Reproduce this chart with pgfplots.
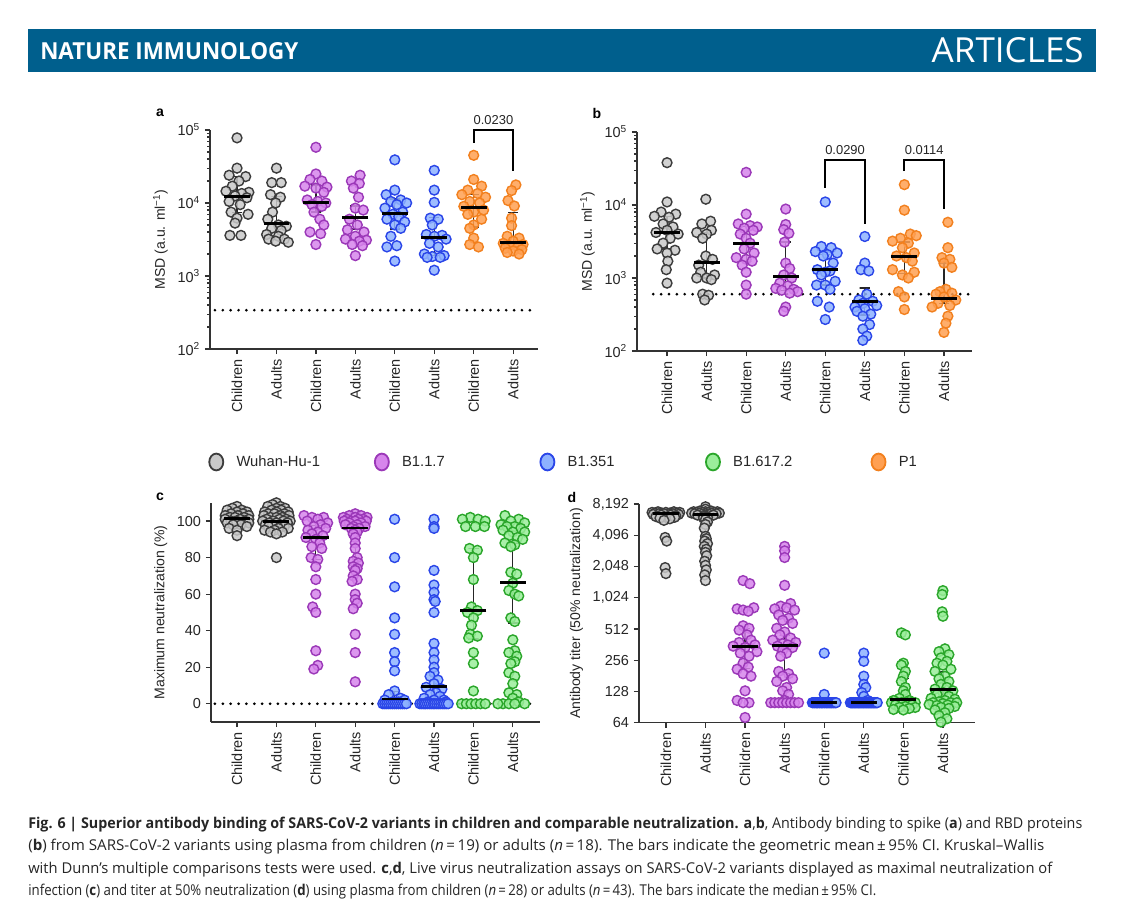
\documentclass[border=0pt]{standalone}
\usepackage{pgfplots}
\pgfplotsset{compat=1.18}
\usepackage{graphicx}
\usepackage{fontspec}
\setmainfont{Liberation Sans}
\newfontfamily\capfont{Open Sans}
\definecolor{banner}{HTML}{005F8D}
\definecolor{gfill}{HTML}{C9C9C9}\definecolor{gdraw}{HTML}{3C3C3C}
\definecolor{pfill}{HTML}{D785EC}\definecolor{pdraw}{HTML}{9B38B8}
\definecolor{bfill}{HTML}{8EB2FF}\definecolor{bdraw}{HTML}{2A45E8}
\definecolor{grfill}{HTML}{9BEE9B}\definecolor{grdraw}{HTML}{2AA62A}
\definecolor{ofill}{HTML}{FFA052}\definecolor{odraw}{HTML}{F2801E}
\definecolor{txt}{HTML}{262626}
\newcommand{\tl}{\fontsize{10.3}{11.5}\selectfont}
\newcommand{\yl}{\fontsize{10}{11.5}\selectfont}
\newcommand{\pv}{\fontsize{9.2}{10.5}\selectfont}
\pgfplotsset{
 pts/.style 2 args={only marks, mark=*, mark size=3.5pt, mark options={draw=#2, fill=#1, line width=1pt, fill opacity=0.85}},
 panel/.style={scale only axis, axis lines*=left, axis line style={line width=0.85pt, color=black!80}, clip=false,
   xtick={0,...,7}, xticklabels={Children,Adults,Children,Adults,Children,Adults,Children,Adults},
   xticklabel style={rotate=90, anchor=east, font=\tl, text=txt},
   yticklabel style={font=\tl, text=txt}, ylabel style={font=\yl, text=txt},
   tick align=outside, major tick length=3.6pt, minor tick length=1.9pt, tick style={line width=0.85pt, color=black!80}},
 med/.style={only marks, mark=-, mark size=9.2pt, mark options={line width=2.1pt, draw=black}},
 ci/.style={black!85, line width=0.9pt, mark=none, line join=miter},
 lod/.style={black, line width=2.1pt, dash pattern=on 0pt off 5.6pt, line cap=round, mark=none},
 bracket/.style={black, line width=1.4pt, line join=miter, mark=none},
}
\begin{document}
\begin{tikzpicture}
\useasboundingbox (0,0) rectangle (28.4,22.85);
\fill[white] (0,0) rectangle (28.4,22.85);
% header
\fill[banner] (0.7,21.05) rectangle (27.4,22.125);
\node[anchor=west, inner sep=0, text=white] at (1.0,21.575) {\resizebox{6.45cm}{0.425cm}{\capfont\bfseries NATURE IMMUNOLOGY}};
\node[anchor=east, inner sep=0, text=white] at (27.1,21.59) {\resizebox{3.8cm}{0.625cm}{\capfont ARTICLES}};
% panel letters
\node[font=\bfseries\fontsize{10}{12}\selectfont] at (4.0,20.025) {a};
\node[font=\bfseries\fontsize{10}{12}\selectfont] at (14.925,20.025) {b};
\node[font=\bfseries\fontsize{10}{12}\selectfont] at (4.0,10.425) {c};
\node[font=\bfseries\fontsize{10}{12}\selectfont] at (14.3,10.425) {d};

% ================= panel a
\begin{axis}[panel, at={(5.25cm,14.125cm)}, anchor=south west, width=8.2cm, height=5.475cm,
 xmin=-0.685, xmax=7.63, ymode=log, ymin=100, ymax=100000,
 ytick={100,1000,10000,100000}, yticklabels={10\textsuperscript{2},10\textsuperscript{3},10\textsuperscript{4},10\textsuperscript{5}},
 minor ytick={200,300,400,500,600,700,800,900,2000,3000,4000,5000,6000,7000,8000,9000,20000,30000,40000,50000,60000,70000,80000,90000},
 ylabel={MSD (a.u. ml\textsuperscript{−1})},
 legend columns=5,
 legend style={draw=none, fill=none, inner sep=0pt, outer sep=0pt, nodes={inner sep=0pt}, at={(-0.0183,-0.516)}, anchor=west, font=\fontsize{10.5}{12}\selectfont, text=txt}]
\addlegendimage{legend image code/.code={\path (0cm,0cm) (0.6cm,0cm); \draw[draw=gdraw, fill=gfill, line width=1.3pt] (0.3cm,0cm) ellipse [x radius=0.175cm, y radius=0.21cm];}}
\addlegendentry{\makebox[3.525cm][l]{\hspace{0.2cm}Wuhan-Hu-1}}
\addlegendimage{legend image code/.code={\path (0cm,0cm) (0.6cm,0cm); \draw[draw=pdraw, fill=pfill, line width=1.3pt] (0.3cm,0cm) ellipse [x radius=0.175cm, y radius=0.21cm];}}
\addlegendentry{\makebox[3.525cm][l]{\hspace{0.2cm}B1.1.7}}
\addlegendimage{legend image code/.code={\path (0cm,0cm) (0.6cm,0cm); \draw[draw=bdraw, fill=bfill, line width=1.3pt] (0.3cm,0cm) ellipse [x radius=0.175cm, y radius=0.21cm];}}
\addlegendentry{\makebox[3.525cm][l]{\hspace{0.2cm}B1.351}}
\addlegendimage{legend image code/.code={\path (0cm,0cm) (0.6cm,0cm); \draw[draw=grdraw, fill=grfill, line width=1.3pt] (0.3cm,0cm) ellipse [x radius=0.175cm, y radius=0.21cm];}}
\addlegendentry{\makebox[3.525cm][l]{\hspace{0.2cm}B1.617.2}}
\addlegendimage{legend image code/.code={\path (0cm,0cm) (0.6cm,0cm); \draw[draw=odraw, fill=ofill, line width=1.3pt] (0.3cm,0cm) ellipse [x radius=0.175cm, y radius=0.21cm];}}
\addlegendentry{\makebox[3.525cm][l]{\hspace{0.2cm}P1}}
\addplot[lod] coordinates {(-0.56,340) (7.54,340)};
\addplot[pts={gfill}{gdraw}] coordinates {(0,78000) (0,30000) (-0.2,24000) (0.22,23000) (0.05,20000) (-0.12,17000) (-0.28,14500) (0.3,14000) (0.12,13500) (-0.05,12500) (0.25,11800) (-0.2,10500) (0.08,9500) (-0.15,7500) (0.28,7000) (0,6200) (-0.05,5300) (-0.18,3600) (0.1,3600)
(1,30000) (0.88,19000) (1.12,19000) (0.85,13000) (1.1,12000) (0.98,10000) (0.9,7500) (0.78,6000) (1.05,5000) (1.25,4800) (0.88,4500) (1.12,4200) (0.75,3700) (1.05,3500) (0.8,3200) (1.2,3200) (0.98,3000) (1.3,2900)};
\addplot[pts={pfill}{pdraw}] coordinates {(2,58000) (2,25000) (1.85,21000) (2.15,20000) (1.72,17000) (2.28,16500) (2,16000) (2.2,14000) (1.78,11000) (2.05,10500) (2.25,10000) (1.9,9500) (2.15,9000) (1.95,7500) (2.1,6000) (2.2,5000) (1.85,4000) (2.12,3800) (2,2700)
(3.12,24000) (2.9,20000) (3.1,18500) (2.95,16000) (3.08,12000) (3,8500) (3.2,8000) (2.85,6000) (3.05,5000) (2.8,4300) (3.22,4000) (3,3500) (2.75,3200) (3.28,3100) (3.1,3000) (2.92,2700) (3.18,2600) (3,1900)};
\addplot[pts={bfill}{bdraw}] coordinates {(4,39000) (4,15000) (3.78,13000) (4.15,11000) (3.9,10500) (4.3,10000) (4.05,9500) (3.75,8500) (4.2,7500) (3.95,7000) (4.1,6500) (3.8,6000) (4.25,5500) (4,5000) (4.15,4500) (3.9,3500) (4.05,2600) (3.8,2500) (4,1600)
(5,28000) (5,15000) (5,10200) (4.9,6200) (5.1,6000) (4.95,5000) (4.8,3700) (5.2,3600) (5,3500) (5.3,3200) (4.88,2800) (5.1,2500) (4.75,2000) (5.25,1900) (4.95,1850) (5.15,1800) (4.82,1800) (5,1200)};
\addplot[pts={ofill}{odraw}] coordinates {(6,45000) (6,21000) (6.2,17000) (5.85,15000) (6.1,13500) (5.7,13000) (6.3,12000) (5.9,10500) (6.15,10000) (5.75,9000) (6.25,8000) (6,7500) (5.85,7000) (6.2,6000) (6,5000) (5.9,4500) (6,3300) (5.9,2700) (6.12,2500)
(7.07,17700) (6.96,14800) (6.87,10800) (7.03,9100) (6.96,6200) (6.96,4900) (6.85,3500) (7.15,3300) (7,3000) (6.75,2800) (7.25,2700) (6.9,2600) (7.12,2500) (6.8,2400) (7.22,2300) (7,2200) (6.85,2100) (7.15,2000)};
\addplot[ci] coordinates {(-0.13,7400) (0.13,7400) (0,7400) (0,23000) (-0.13,23000) (0.13,23000)};
\addplot[ci] coordinates {(0.87,3950) (1.13,3950) (1,3950) (1,12300) (0.87,12300) (1.13,12300)};
\addplot[ci] coordinates {(1.87,7500) (2.13,7500) (2,7500) (2,17700) (1.87,17700) (2.13,17700)};
\addplot[ci] coordinates {(2.87,4400) (3.13,4400) (3,4400) (3,9100) (2.87,9100) (3.13,9100)};
\addplot[ci] coordinates {(3.87,4400) (4.13,4400) (4,4400) (4,11300) (3.87,11300) (4.13,11300)};
\addplot[ci] coordinates {(4.87,1930) (5.13,1930) (5,1930) (5,6400) (4.87,6400) (5.13,6400)};
\addplot[ci] coordinates {(5.87,4700) (6.13,4700) (6,4700) (6,13200) (5.87,13200) (6.13,13200)};
\addplot[ci] coordinates {(6.87,2540) (7.13,2540) (7,2540) (7,7400) (6.87,7400) (7.13,7400)};
\addplot[med] coordinates {(0,12300) (1,5200) (2,10200) (3,6400) (4,7200) (5,3400) (6,8750) (7,2900)};
\addplot[bracket] coordinates {(6,67000) (6,100000) (7,100000) (7,27400)};
\node[anchor=south, font=\pv, text=txt] at (axis cs:6.5,100000) {0.0230};
\end{axis}

% ================= panel b
\begin{axis}[panel, at={(15.925cm,14.075cm)}, anchor=south west, width=8.375cm, height=5.475cm,
 xmin=-0.76, xmax=7.71, ymode=log, ymin=100, ymax=100000,
 ytick={100,1000,10000,100000}, yticklabels={10\textsuperscript{2},10\textsuperscript{3},10\textsuperscript{4},10\textsuperscript{5}},
 minor ytick={200,300,400,500,600,700,800,900,2000,3000,4000,5000,6000,7000,8000,9000,20000,30000,40000,50000,60000,70000,80000,90000},
 ylabel={MSD (a.u. ml\textsuperscript{−1})}]
\addplot[lod] coordinates {(-0.35,600) (7.66,600)};
\addplot[pts={gfill}{gdraw}] coordinates {(0,38000) (0,11000) (-0.15,8000) (0.22,7500) (-0.32,7000) (0.05,6800) (-0.1,5500) (0.15,5000) (0,4500) (-0.28,4200) (0.28,4000) (0.08,3500) (-0.1,3000) (-0.25,2500) (0.2,2400) (0,2200) (0.02,1700) (-0.02,1300) (0,850)
(0.98,12000) (1.1,6000) (0.88,5500) (1.12,4500) (0.75,4200) (1,4000) (0.9,3500) (0.98,2000) (1.15,1800) (0.8,1500) (0.85,1200) (1.2,1100) (1,1000) (0.75,1000) (1.12,950) (0.9,600) (1.05,580) (0.95,500)};
\addplot[pts={pfill}{pdraw}] coordinates {(2,28000) (2,7500) (1.8,5500) (2.1,5200) (2.28,5000) (1.95,4800) (2.18,4500) (1.85,4000) (2,3500) (2.1,3000) (1.95,2500) (2.2,2200) (1.75,1900) (2,1800) (2.15,1700) (1.9,1500) (2,1200) (2,800) (2,600)
(3,8800) (3,5400) (2.95,4600) (3.08,4100) (2.97,3100) (3,1600) (3.1,1350) (2.95,1100) (3.15,1000) (2.85,850) (3.05,780) (2.75,720) (3.2,700) (2.9,680) (3.3,650) (3.1,620) (3,400) (2.95,350)};
\addplot[pts={bfill}{bdraw}] coordinates {(4,11000) (3.9,2700) (4.15,2600) (3.75,2300) (4.3,2200) (4.05,2100) (3.95,2000) (4.2,1600) (3.8,1300) (4.12,1250) (4,1200) (3.9,1100) (4.25,900) (3.78,800) (4,800) (4.12,700) (3.8,480) (4.1,400) (4,270)
(5,3700) (5,1600) (4.9,1300) (5.1,1250) (5.05,600) (4.85,500) (5.2,480) (4.95,450) (5.3,420) (4.75,400) (5,380) (4.8,350) (5.15,320) (4.95,300) (5.12,230) (4.95,200) (5.05,160) (4.95,140)};
\addplot[pts={ofill}{odraw}] coordinates {(6,19000) (6,8500) (6.15,4000) (6.3,3800) (5.9,3500) (5.7,3200) (6.1,3000) (5.95,2600) (6.25,2200) (5.8,2000) (6.05,1900) (6.2,1700) (5.7,1300) (6.25,1200) (5.95,1100) (6.1,1000) (5.85,650) (6,550) (6,370)
(7.1,5800) (7.1,2600) (6.95,1900) (7.15,1800) (7,1600) (7.2,1400) (7.05,700) (6.9,650) (7.2,620) (6.8,600) (7,550) (7.3,500) (6.85,450) (7.15,420) (6.7,400) (7.1,300) (7.05,240) (7,180)};
\addplot[ci] coordinates {(-0.13,2500) (0.13,2500) (0,2500) (0,6900) (-0.13,6900) (0.13,6900)};
\addplot[ci] coordinates {(0.87,1000) (1.13,1000) (1,1000) (1,4200) (0.87,4200) (1.13,4200)};
\addplot[ci] coordinates {(1.87,1700) (2.13,1700) (2,1700) (2,5100) (1.87,5100) (2.13,5100)};
\addplot[ci] coordinates {(2.87,680) (3.13,680) (3,680) (3,3100) (2.87,3100) (3.13,3100)};
\addplot[ci] coordinates {(3.87,800) (4.13,800) (4,800) (4,2100) (3.87,2100) (4.13,2100)};
\addplot[ci] coordinates {(4.87,310) (5.13,310) (5,310) (5,730) (4.87,730) (5.13,730)};
\addplot[ci] coordinates {(5.87,1150) (6.13,1150) (6,1150) (6,3100) (5.87,3100) (6.13,3100)};
\addplot[ci] coordinates {(6.87,445) (7.13,445) (7,445) (7,1600) (6.87,1600) (7.13,1600)};
\addplot[med] coordinates {(0,4200) (1,1650) (2,2950) (3,1050) (4,1300) (5,475) (6,2000) (7,530)};
\addplot[bracket] coordinates {(4,17100) (4,41400) (5,41400) (5,5500)};
\addplot[bracket] coordinates {(6,29200) (6,41400) (7,41400) (7,8800)};
\node[anchor=south, font=\pv, text=txt] at (axis cs:4.5,41400) {0.0290};
\node[anchor=south, font=\pv, text=txt] at (axis cs:6.5,41400) {0.0114};
\end{axis}

% ================= panel c
\begin{axis}[panel, at={(5.275cm,4.8cm)}, anchor=south west, width=8.225cm, height=5.48cm,
 xmin=-0.66, xmax=7.69, ymin=-10, ymax=110,
 ytick={0,20,40,60,80,100}, yticklabels={0,20,40,60,80,100},
 ylabel={Maximum neutralization (\%)}]
\addplot[lod] coordinates {(-0.56,0) (7.54,0)};
\addplot[pts={gfill}{gdraw}] coordinates {(0,108) (-0.12,107) (0.12,106) (-0.25,106) (0.25,105) (0,105) (-0.15,104) (0.15,104) (-0.3,103) (0.3,103) (0.02,103) (-0.18,102) (0.18,102) (-0.05,102) (0.3,101) (-0.3,101) (0.08,101) (-0.15,100) (0.2,100) (-0.02,100) (0.3,99) (-0.25,99) (0.1,98) (-0.1,98) (0.25,97) (-0.2,96) (0,95) (0,92)
(1,110) (0.9,109) (1.1,108) (0.78,108) (1.22,107) (1,107) (0.88,106) (1.12,106) (0.7,105) (1.3,105) (1,105) (0.8,104) (1.2,104) (0.95,104) (1.1,103) (0.68,103) (1.32,103) (0.85,102) (1.15,102) (1,102) (0.75,101) (1.25,101) (1.08,101) (0.92,100) (0.65,100) (1.35,100) (1.18,100) (0.82,99) (1,99) (1.28,99) (0.72,98) (1.1,98) (0.9,98) (1.2,97) (0.8,97) (1.05,96) (1.3,96) (0.7,95) (0.95,95) (1.15,94) (0.85,94) (1,93) (1,80)};
\addplot[pts={pfill}{pdraw}] coordinates {(1.7,103) (1.9,102) (2.2,102) (2.05,101) (1.78,100) (2.3,99) (2.12,98) (1.95,97) (2.25,96) (1.8,95) (2.05,94) (1.9,93) (2.18,92) (1.75,91) (2,90) (2.1,88) (1.9,86) (2.15,85) (1.88,80) (2.05,79) (2,75) (2,68) (2,60) (1.92,53) (2,50) (2,29) (2.05,21) (1.95,19)
(3,104) (2.85,103) (3.15,103) (2.7,102) (3.3,102) (3,102) (2.8,101) (3.2,101) (3.08,101) (2.9,100) (3.28,100) (2.72,100) (3,100) (3.15,99) (2.85,99) (3.05,98) (2.75,98) (3.25,97) (2.95,97) (3.1,96) (2.9,96) (3,95) (3.05,94) (2.95,93) (3,91) (3,88) (3,85) (3.05,80) (2.95,78) (3.08,77) (2.95,75) (3.05,74) (3,73) (2.95,70) (3.05,68) (2.92,67) (3,60) (3,57) (3.05,55) (2.95,52) (3,38) (3,28) (3,12)};
\addplot[pts={bfill}{bdraw}] coordinates {(4,101) (4,80) (4,64) (4,47) (4,38) (4,28) (4,23) (4,18) (4,7) (3.85,5) (4.15,3) (3.75,2) (4.25,2) (3.95,1) (4.1,1) (3.7,0) (3.75,0) (3.8,0) (3.85,0) (3.9,0) (3.95,0) (4,0) (4.05,0) (4.1,0) (4.15,0) (4.2,0) (4.25,0) (4.3,0)
(5,101) (5,97) (5,96) (5,73) (5,65) (5,61) (5,57) (5.03,56) (5,50) (5,33) (5,28) (5,24) (5,20) (5,17) (4.9,15) (5.1,13) (5,11) (4.8,9) (5.2,8) (5.05,6) (4.9,5) (5.15,4) (4.75,3) (5.25,2) (5,2) (4.85,1) (5.3,1)
(4.64,0) (4.69,0) (4.74,0) (4.78,0) (4.83,0) (4.88,0) (4.93,0) (4.98,0) (5.02,0) (5.07,0) (5.12,0) (5.17,0) (5.22,0) (5.26,0) (5.31,0) (5.36,0)};
\addplot[pts={grfill}{grdraw}] coordinates {(5.92,102) (6.12,101) (5.72,101) (6.3,100) (5.8,97) (6.05,97) (6.28,97) (5.9,85) (6.1,84) (6,80) (6,68) (5.95,53) (6.1,51) (5.85,50) (6,47) (5.95,43) (5.92,38) (6.1,37) (5.88,36) (6,28) (6,22) (6,7) (5.7,0) (5.82,0) (5.94,0) (6.06,0) (6.18,0) (6.3,0)
(6.8,103) (7.15,101) (6.95,100) (7.3,99) (6.7,98) (7.05,97) (6.85,97) (7.2,96) (6.75,95) (7.3,94) (7,94) (6.9,92) (7.12,91) (7.25,90) (6.8,88) (7.05,87) (6.95,86) (6.95,72) (7.1,71) (7,66) (6.9,62) (7.05,60) (7.15,59) (6.95,47) (7.05,45) (7,35) (7.05,29) (6.9,28) (7.1,26) (7.05,23) (6.95,22) (6.9,17) (7.05,15) (7,11) (6.9,6) (7.1,5) (7,3) (7.15,1) (6.75,0) (6.9,0) (7.05,0) (7.3,0) (6.62,0)};
\addplot[ci] coordinates {(-0.13,100) (0.13,100) (0,100) (0,103) (-0.13,103) (0.13,103)};
\addplot[ci] coordinates {(0.87,99) (1.13,99) (1,99) (1,101) (0.87,101) (1.13,101)};
\addplot[ci] coordinates {(1.87,79) (2.13,79) (2,79) (2,97.6) (1.87,97.6) (2.13,97.6)};
\addplot[ci] coordinates {(2.87,74.6) (3.13,74.6) (3,74.6) (3,99.6) (2.87,99.6) (3.13,99.6)};
\addplot[ci] coordinates {(3.87,0) (4.13,0) (4,0) (4,6.8) (3.87,6.8) (4.13,6.8)};
\addplot[ci] coordinates {(4.87,1.3) (5.13,1.3) (5,1.3) (5,15.4) (4.87,15.4) (5.13,15.4)};
\addplot[ci] coordinates {(5.87,35.5) (6.13,35.5) (6,35.5) (6,84.8) (5.87,84.8) (6.13,84.8)};
\addplot[ci] coordinates {(6.87,44.2) (7.13,44.2) (7,44.2) (7,87.6) (6.87,87.6) (7.13,87.6)};
\addplot[med] coordinates {(0,101.5) (1,100) (2,91) (3,96.2) (4,2.6) (5,9.5) (6,51) (7,66.2)};
\end{axis}

% ================= panel d
\begin{axis}[panel, at={(15.975cm,4.78cm)}, anchor=south west, width=8.4cm, height=5.47cm,
 xmin=-0.68, xmax=7.81, ymode=log, log basis y=2, ymin=64, ymax=8192,
 ytick={64,128,256,512,1024,2048,4096,8192}, yticklabels={64,128,256,512,{1,024},{2,048},{4,096},{8,192}},
 minor y tick num=0,
 ylabel={Antibody titer (50\% neutralization)}]
\addplot[pts={gfill}{gdraw}] coordinates {(-0.2,6900) (0.2,6900) (-0.35,6800) (0,6800) (0.35,6800) (-0.1,6700) (0.1,6700) (-0.28,6700) (0.28,6700) (-0.18,6600) (0.18,6600) (0.05,6600) (-0.05,6600) (-0.32,6500) (0.32,6500) (-0.12,6400) (0.12,6400) (0.25,6300) (-0.25,6200) (0,6100) (0.22,6100) (-0.15,6000) (0.1,5900) (-0.05,5700) (-0.02,3900) (0.02,3600) (-0.02,2000) (0,1750)
(1,7700) (1,7300) (0.85,7000) (1.15,7000) (0.7,6900) (1.3,6900) (1,6900) (0.78,6800) (1.22,6800) (0.92,6800) (1.08,6800) (0.65,6700) (1.35,6700) (0.85,6700) (1.15,6700) (1,6600) (0.73,6600) (1.27,6600) (0.9,6500) (1.1,6500) (0.8,6400) (1.2,6400) (1,6300) (0.95,6200) (1.05,6100) (0.95,6000) (1,5800) (1.05,5500) (1,5200) (0.97,4800) (1,4000) (1.02,3800) (0.98,3600) (1.05,3400) (0.97,3200) (1.02,3000) (1,2800) (1.03,2600) (0.98,2300) (1,2100) (1.02,1900) (0.98,1700) (1,1500)};
\addplot[pts={pfill}{pdraw}] coordinates {(1.95,1500) (2.12,1400) (2.22,820) (1.8,800) (1.95,780) (2.08,760) (1.95,550) (2.1,520) (1.85,500) (2.05,450) (2.15,400) (1.85,380) (2.25,360) (1.7,350) (2,340) (2.3,310) (1.88,300) (2.1,280) (1.95,240) (2.08,220) (1.8,210) (1.95,190) (2.15,180) (2,130) (1.8,105) (2.1,100) (1.95,100) (2,72)
(3,3200) (3,2900) (3,2500) (3,1350) (3.15,900) (2.9,850) (3.05,820) (2.75,800) (3.25,780) (2.85,700) (3.1,650) (2.95,620) (3.2,580) (2.8,520) (3,480) (2.88,450) (3.15,420) (2.7,400) (3.28,380) (2.95,370) (3.08,360) (2.82,350) (3.2,340) (2.95,320) (3.05,300) (2.9,280) (2.85,200) (3.1,190) (2.95,180) (3.2,170) (2.8,160) (3.05,140) (2.95,130) (3.1,120) (3,105) (2.65,100) (2.75,100) (2.85,100) (2.95,100) (3.05,100) (3.15,100) (3.25,100) (3.35,100)};
\addplot[pts={bfill}{bdraw}] coordinates {(4,300) (4,120) (3.70,100) (3.72,100) (3.75,100) (3.77,100) (3.80,100) (3.82,100) (3.84,100) (3.87,100) (3.89,100) (3.92,100) (3.94,100) (3.96,100) (3.99,100) (4.01,100) (4.04,100) (4.06,100) (4.08,100) (4.11,100) (4.13,100) (4.16,100) (4.18,100) (4.20,100) (4.23,100) (4.25,100) (4.28,100) (4.30,100)
(5,300) (5,250) (5,180) (5,150) (5.05,140) (4.95,125) (5,115) (5.1,105)
(4.66,100) (4.68,100) (4.70,100) (4.72,100) (4.74,100) (4.76,100) (4.78,100) (4.80,100) (4.82,100) (4.84,100) (4.86,100) (4.88,100) (4.90,100) (4.92,100) (4.94,100) (4.96,100) (4.98,100) (5.00,100) (5.02,100) (5.04,100) (5.06,100) (5.08,100) (5.10,100) (5.12,100) (5.14,100) (5.16,100) (5.18,100) (5.20,100) (5.22,100) (5.24,100) (5.26,100) (5.28,100) (5.30,100) (5.32,100) (5.34,100)};
\addplot[pts={grfill}{grdraw}] coordinates {(5.95,470) (6.05,450) (6,240) (5.95,230) (6.05,200) (6,180) (5.95,160) (6.05,140) (6,130) (6.05,120) (5.9,110) (6.15,105) (5.75,105) (6,100) (6.2,100) (5.85,100) (6.3,100) (5.7,100) (6.1,100) (5.95,100) (6.22,95) (5.8,95) (6.05,92) (5.9,90) (6.3,90) (6.15,88) (5.75,86) (6,85)
(7,1200) (6.98,1100) (6.98,750) (7,680) (7.05,330) (6.9,310) (7.15,290) (6.95,270) (7.1,250) (6.85,240) (7,230) (7.2,210) (6.8,200) (7.05,180) (6.9,170) (7.15,160) (6.95,150) (7.1,140) (6.8,135) (7.25,130) (7,125) (6.85,120) (7.15,115) (6.7,110) (7.3,108) (7.05,105) (6.9,102) (7.2,100) (6.75,100) (7.35,100) (7,98) (6.65,96) (7.12,95) (6.85,94) (7.3,92) (6.95,90) (7.15,88) (6.8,85) (7.05,80) (6.9,75) (7.1,70) (6.95,65)};
\addplot[ci] coordinates {(-0.13,6400) (0.13,6400) (0,6400) (0,6800) (-0.13,6800) (0.13,6800)};
\addplot[ci] coordinates {(0.87,6000) (1.13,6000) (1,6000) (1,6850) (0.87,6850) (1.13,6850)};
\addplot[ci] coordinates {(1.87,213) (2.13,213) (2,213) (2,517) (1.87,517) (2.13,517)};
\addplot[ci] coordinates {(2.87,190) (3.13,190) (3,190) (3,445) (2.87,445) (3.13,445)};
\addplot[ci] coordinates {(4.87,100) (5.13,100) (5,100) (5,104) (4.87,104) (5.13,104)};
\addplot[ci] coordinates {(5.87,104) (6.13,104) (6,104) (6,171) (5.87,171) (6.13,171)};
\addplot[ci] coordinates {(6.87,101) (7.13,101) (7,101) (7,198) (6.87,198) (7.13,198)};
\addplot[med] coordinates {(0,6650) (1,6550) (2,345) (3,358) (4,100) (5,100) (6,108) (7,134)};
\end{axis}

% caption
\begin{scope}[every node/.style={anchor=base west, inner sep=0pt, text=txt}]
\node at (0.7,2.15) {\resizebox{26.35cm}{\height}{\capfont\fontsize{10.6}{12}\selectfont \textbf{Fig. 6 | Superior antibody binding of SARS-CoV-2 variants in children and comparable neutralization. a},\textbf{b}, Antibody binding to spike (\textbf{a}) and RBD proteins}};
\node at (0.7,1.5875) {\resizebox{25.4cm}{\height}{\capfont\fontsize{10.6}{12}\selectfont (\textbf{b}) from SARS-CoV-2 variants using plasma from children (\textit{n}\,=\,19) or adults (\textit{n}\,=\,18). The bars indicate the geometric mean\,±\,95\% CI. Kruskal–Wallis}};
\node at (0.7,1.025) {\resizebox{25.6cm}{\height}{\capfont\fontsize{10.6}{12}\selectfont with Dunn’s multiple comparisons tests were used. \textbf{c},\textbf{d}, Live virus neutralization assays on SARS-CoV-2 variants displayed as maximal neutralization of}};
\node at (0.7,0.4625) {\resizebox{21.2cm}{\height}{\capfont\fontsize{10.6}{12}\selectfont infection (\textbf{c}) and titer at 50\% neutralization (\textbf{d}) using plasma from children (\textit{n}\,=\,28) or adults (\textit{n}\,=\,43). The bars indicate the median\,±\,95\% CI.}};
\end{scope}
\end{tikzpicture}
\end{document}
